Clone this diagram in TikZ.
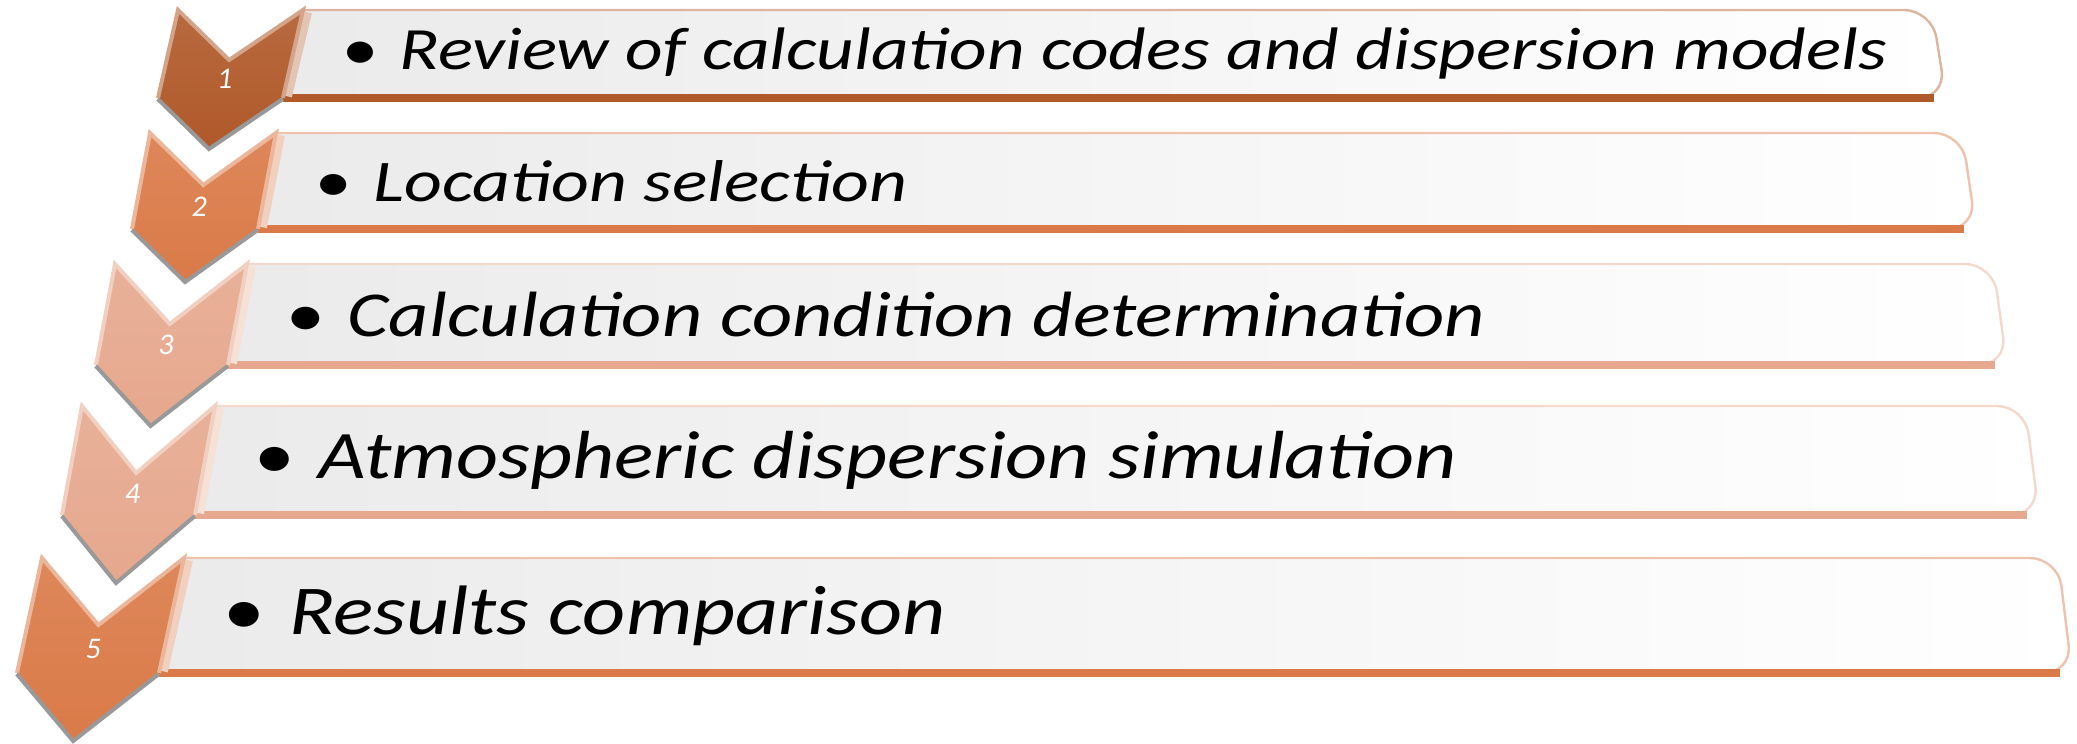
\documentclass[tikz,border=0pt]{standalone}
\usepackage{fontspec}
\setmainfont{Carlito}
\definecolor{rust}{HTML}{B0592A}
\definecolor{copper}{HTML}{DA7A48}
\definecolor{salmon}{HTML}{E6A88E}

\begin{document}
\begin{tikzpicture}[x=0.5pt, y=-0.5pt,
  stagebox/.style={left color=black!8, right color=white},
  stagenum/.style={text=white, inner sep=0pt, font=\fontsize{15}{15}\selectfont\itshape},
  stagetext/.style={anchor=west, inner sep=0pt}]
  \useasboundingbox (0,0) rectangle (2077,744);
  \foreach \n/\col/\a/\t/\h/\w/\s/\d/\X/\fs/\sx/\txt in {
      1/rust/178/10/88/125/20/50/1932/30/1.22/{Review of calculation codes and dispersion models},
      2/copper/150/133/96/126/18/52/1962/29.5/1.25/{Location selection},
      3/salmon/115/264/101/132/19/60/1993/32/1.225/{Calculation condition determination},
      4/salmon/82/406/109/133/20/67/2025/34/1.205/{Atmospheric dispersion simulation},
      5/copper/42/558/115/142/25/67/2058/35/1.2/{Results comparison}}{
    % text box
    \fill[stagebox] (\a+\w,\t) [rounded corners=14] -- (\X,\t) -- (\X+14,\t+\h)
      [sharp corners] -- (\a+\w-\s,\t+\h) -- cycle;
    \draw[\col!45!white, line width=1.2] (\a+\w,\t) [rounded corners=14] -- (\X,\t) -- (\X+14,\t+\h) -- (\X,\t+\h);
    \draw[\col, line width=4] (\a+\w-\s,\t+\h) -- (\X+2,\t+\h);
    \draw[\col!35!white, line width=6] (\a+\w+3,\t+2) -- (\a+\w-\s+3,\t+\h-2);
    % chevron
    \begin{scope}[shift={(\a,\t)}, xslant=\s/\h]
      \fill[top color=\col!90!white, bottom color=\col] (0,0) -- (\w/2,\d) -- (\w,0) -- (\w,\h)
        -- (\w/2,\h+\d) -- (0,\h) -- cycle;
      \draw[\col!55!white, line width=2] (0,\h) -- (0,0) -- (\w/2,\d) -- (\w,0) -- (\w,\h);
      \draw[black!40, line width=2] (0,\h+1) -- (\w/2,\h+\d+1) -- (\w,\h+1);
      \node[stagenum] (n\n) at (\w/2,\h/2+\d/2) {\n};
    \end{scope}
    \node[stagetext, font=\fontsize{\fs}{\fs}\selectfont\itshape] (t\n) at (\a+\w+38,\t+\h/2)
      {\scalebox{\sx}[1]{\textbullet\hspace{0.3em}\txt}};
  }
\end{tikzpicture}
\end{document}
